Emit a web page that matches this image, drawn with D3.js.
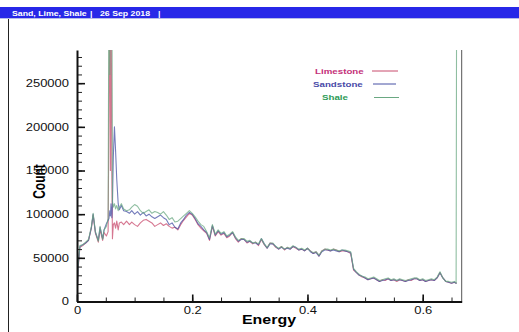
<!DOCTYPE html>
<html>
<head>
<meta charset="utf-8">
<script src="https://cdn.jsdelivr.net/npm/d3@7"></script>
<style>
  body { margin: 0; background: #fff; }
  svg { display: block; font-family: "Liberation Sans", Arial, sans-serif; }
</style>
</head>
<body>
<div id="chart"></div>
<script>
// energy grid (finer around the spike near 0.06)
const energy = [
  0, 0.002, 0.005, 0.01, 0.015, 0.02, 0.025, 0.028, 0.032, 0.037,
  0.04, 0.0445, 0.047, 0.051, 0.054, 0.0555, 0.057, 0.058, 0.059, 0.0605,
  0.0615, 0.063, 0.065, 0.067, 0.069, 0.0715, 0.0735, 0.077, 0.081, 0.086,
  0.091, 0.095, 0.1, 0.105, 0.11, 0.115, 0.12, 0.125, 0.13, 0.135,
  0.14, 0.145, 0.15, 0.155, 0.16, 0.165, 0.17, 0.175, 0.18, 0.185,
  0.19, 0.195, 0.2, 0.205, 0.21, 0.215, 0.22, 0.225, 0.23, 0.235,
  0.24, 0.245, 0.25, 0.255, 0.26, 0.265, 0.27, 0.275, 0.28, 0.285,
  0.29, 0.295, 0.3, 0.305, 0.31, 0.315, 0.32, 0.325, 0.33, 0.335,
  0.34, 0.345, 0.35, 0.355, 0.36, 0.365, 0.37, 0.375, 0.38, 0.385,
  0.39, 0.395, 0.4, 0.405, 0.41, 0.415, 0.42, 0.425, 0.43, 0.435,
  0.44, 0.445, 0.45, 0.455, 0.46, 0.465, 0.47, 0.475, 0.48, 0.485,
  0.49, 0.495, 0.5, 0.505, 0.51, 0.515, 0.52, 0.525, 0.53, 0.535,
  0.54, 0.545, 0.55, 0.555, 0.56, 0.565, 0.57, 0.575, 0.58, 0.585,
  0.59, 0.595, 0.6, 0.605, 0.61, 0.615, 0.62, 0.625, 0.63, 0.635,
  0.64, 0.645, 0.65, 0.655, 0.658, 0.659
];

// counts, in thousands (values above the axis top run off the plot)
const limestone = [
  2, 38, 62, 64, 67, 70, 84, 99, 78, 68,
  82, 70, 79, 75, 80, 215, 400, 150, 400, 147,
  72, 88, 90, 84, 92, 82, 90, 91, 88, 92,
  88, 91, 88, 86, 90, 93, 94, 92, 90, 86,
  88, 90, 87, 89, 86, 84, 85, 82, 88, 93,
  97, 101, 99, 94, 88, 84, 81, 78, 70, 86,
  75, 80, 76, 78, 73, 75, 79, 72, 68, 72,
  71, 67, 69, 66, 68, 64, 71, 65, 61, 67,
  66, 62, 60, 63, 59, 62, 60, 63, 61, 59,
  60, 58, 61, 58, 55, 57, 52, 58, 60, 59,
  58, 60, 59, 57, 58, 58, 57, 55, 36, 33,
  30, 28, 27, 25, 26, 27, 25, 23, 25, 24,
  26, 24, 25, 23, 25, 24, 23, 25, 24, 26,
  26, 24, 25, 23, 24, 25, 24, 27, 33, 27,
  23, 22, 21, 22, 21, 21
];
const sandstone = [
  2, 40, 63, 65, 67, 70, 85, 100, 79, 70,
  85, 72, 82, 89, 93, 95, 104, 98, 112, 96,
  110, 165, 200, 172, 140, 112, 105, 110, 104, 103,
  101, 104, 100, 103, 99, 102, 98, 100, 97, 95,
  97, 99, 96, 94, 88, 90, 85, 83, 90, 94,
  99, 102, 100, 95, 89, 86, 82, 79, 71, 87,
  76, 81, 77, 79, 74, 76, 79, 73, 69, 71,
  71, 68, 69, 67, 67, 65, 72, 66, 61, 66,
  66, 63, 60, 62, 60, 61, 60, 63, 62, 59,
  60, 58, 61, 57, 55, 56, 52, 57, 59, 59,
  58, 59, 58, 57, 59, 58, 57, 56, 37, 33,
  30, 29, 27, 25, 26, 27, 25, 23, 24, 25,
  26, 24, 25, 24, 25, 24, 23, 24, 25, 26,
  26, 24, 25, 23, 24, 25, 24, 27, 33, 27,
  23, 22, 21, 22, 21, 21
];
const shale = [
  4, 42, 64, 65, 68, 71, 86, 101, 80, 69,
  86, 71, 82, 86, 95, 400, 260, 400, 300, 400,
  115, 108, 112, 106, 110, 104, 108, 112, 106, 104,
  105, 108, 111, 109, 104, 101, 103, 105, 101, 103,
  102, 100, 103, 99, 94, 96, 91, 92, 95, 98,
  101, 104, 101, 97, 92, 88, 86, 80, 73, 88,
  77, 82, 78, 80, 75, 77, 80, 74, 70, 72,
  72, 69, 70, 67, 68, 66, 72, 66, 62, 67,
  67, 63, 61, 63, 60, 62, 61, 64, 62, 60,
  61, 59, 61, 58, 56, 57, 53, 58, 60, 60,
  59, 60, 59, 58, 59, 59, 58, 57, 38, 34,
  31, 29, 28, 26, 27, 28, 26, 24, 25, 26,
  27, 25, 26, 24, 26, 25, 24, 25, 26, 27,
  27, 25, 26, 24, 25, 26, 25, 28, 34, 27,
  23, 23, 22, 23, 21, 400
];

const seriesNames = ["Limestone", "Sandstone", "Shale"];
const xMajorTicks = [0, 0.2, 0.4, 0.6];
const yMajorTicks = [0, 50000, 100000, 150000, 200000, 250000];
const titleParts = ["Sand, Lime, Shale", "|", "26 Sep 2018", "|"];

// the reference picture is stretched sideways, text follows it
const sx = 1.3;
const lineColor = { Limestone: "#c84a6c", Sandstone: "#4650a4", Shale: "#6aa882" };
const textColor = { Limestone: "#c4307a", Sandstone: "#4a4aa8", Shale: "#2e9c58" };

const width = 519, height = 332;
const svg = d3.select("#chart").append("svg").attr("width", width).attr("height", height);

// title bar
svg.append("rect").attr("x", 0).attr("y", 7).attr("width", width).attr("height", 11).attr("fill", "#2828e8");
svg.append("line").attr("x1", 0).attr("x2", width).attr("y1", 18.5).attr("y2", 18.5).attr("stroke", "#b8bce8");
const titleX = [12, 90, 100, 158];
titleParts.forEach((t, i) => {
    svg.append("text")
        .attr("transform", `translate(${titleX[i]},16) scale(1.25,1)`)
        .attr("fill", "#fff").attr("font-size", "7px").attr("font-weight", "bold")
        .text(t);
});
svg.append("line").attr("x1", 8.5).attr("x2", 8.5).attr("y1", 19).attr("y2", height).attr("stroke", "#222");

const x = d3.scaleLinear().domain([0, 0.6677]).range([77, 461.7]);
const y = d3.scaleLinear().domain([0, 288000]).range([301.5, 50]);

svg.append("clipPath").attr("id", "plotClip")
    .append("rect").attr("x", 77).attr("y", 50).attr("width", 461.7 - 77).attr("height", 251.5);

const series = seriesNames.map(name => {
    const src = name === "Limestone" ? limestone : name === "Sandstone" ? sandstone : shale;
    return { name, values: energy.map((e, i) => ({ e, c: src[i] * 1000 })) };
});

const line = d3.line().x(d => x(d.e)).y(d => y(d.c));
svg.append("g").attr("clip-path", "url(#plotClip)")
    .selectAll("path")
    .data(series)
    .enter().append("path")
    .attr("d", d => line(d.values))
    .attr("fill", "none")
    .attr("stroke", d => lineColor[d.name])
    .attr("stroke-width", 1.1)
    .attr("stroke-linejoin", "round")
    .attr("opacity", 0.75);

// right frame line
svg.append("line").attr("x1", 461.7).attr("x2", 461.7).attr("y1", 50).attr("y2", 301.5)
    .attr("stroke", "#555").attr("stroke-width", 1);

// minor ticks
svg.append("g").attr("transform", "translate(77,0)")
    .call(d3.axisLeft(y).tickValues(d3.range(0, 288000, 10000)).tickSize(-5).tickFormat(""))
    .call(g => g.select(".domain").remove())
    .call(g => g.selectAll("line").attr("stroke", "#222").attr("stroke-width", 1));
svg.append("g").attr("transform", "translate(0,301.5)")
    .call(d3.axisBottom(x).tickValues(d3.range(0, 0.66, 0.05)).tickSize(-4).tickFormat(""))
    .call(g => g.select(".domain").remove())
    .call(g => g.selectAll("line").attr("stroke", "#222").attr("stroke-width", 1));

// major axes
const yAxis = svg.append("g").attr("transform", "translate(77,0)")
    .call(d3.axisLeft(y).tickValues(yMajorTicks).tickSize(-8).tickSizeOuter(0).tickPadding(8).tickFormat(d3.format("d")));
yAxis.selectAll("text")
    .attr("x", -8 / sx).attr("transform", `scale(${sx},1)`)
    .attr("font-size", "10px").attr("fill", "#111");
const xAxis = svg.append("g").attr("transform", "translate(0,301.5)")
    .call(d3.axisBottom(x).tickValues(xMajorTicks).tickSize(-7).tickSizeOuter(0).tickPadding(5).tickFormat(d => d === 0 ? "0" : d3.format(".1f")(d)));
xAxis.selectAll("text")
    .attr("transform", `scale(${sx},1)`).attr("x", 0)
    .attr("font-size", "10px").attr("fill", "#111");
[yAxis, xAxis].forEach(a => {
    a.select(".domain").attr("stroke", "#111").attr("stroke-width", 2);
    a.selectAll(".tick line").attr("stroke", "#111").attr("stroke-width", 1.6);
});

// axis titles
svg.append("text")
    .attr("transform", `translate(269,323.5) scale(1.33,1)`)
    .attr("text-anchor", "middle").attr("font-size", "12px").attr("font-weight", "bold")
    .text("Energy");
svg.append("text")
    .attr("transform", `translate(45,181.5) scale(1.33,1) rotate(-90)`)
    .attr("text-anchor", "middle").attr("font-size", "12px").attr("font-weight", "bold")
    .text("Count");

// legend
const legendTextX = { Limestone: 315, Sandstone: 313, Shale: 322 };
const legendY = { Limestone: 71, Sandstone: 84, Shale: 97.5 };
const legendLine = { Limestone: [372, 398], Sandstone: [373, 396], Shale: [374, 399] };
const legend = svg.append("g").selectAll("g").data(seriesNames).enter().append("g");
legend.append("text")
    .attr("transform", d => `translate(${legendTextX[d]},${legendY[d] + 2.8}) scale(${sx},1)`)
    .attr("font-size", "7.5px").attr("font-weight", "bold")
    .attr("fill", d => textColor[d])
    .text(d => d);
legend.append("line")
    .attr("x1", d => legendLine[d][0]).attr("x2", d => legendLine[d][1])
    .attr("y1", d => legendY[d]).attr("y2", d => legendY[d])
    .attr("stroke", d => lineColor[d]).attr("stroke-width", 1);
</script>
</body>
</html>
